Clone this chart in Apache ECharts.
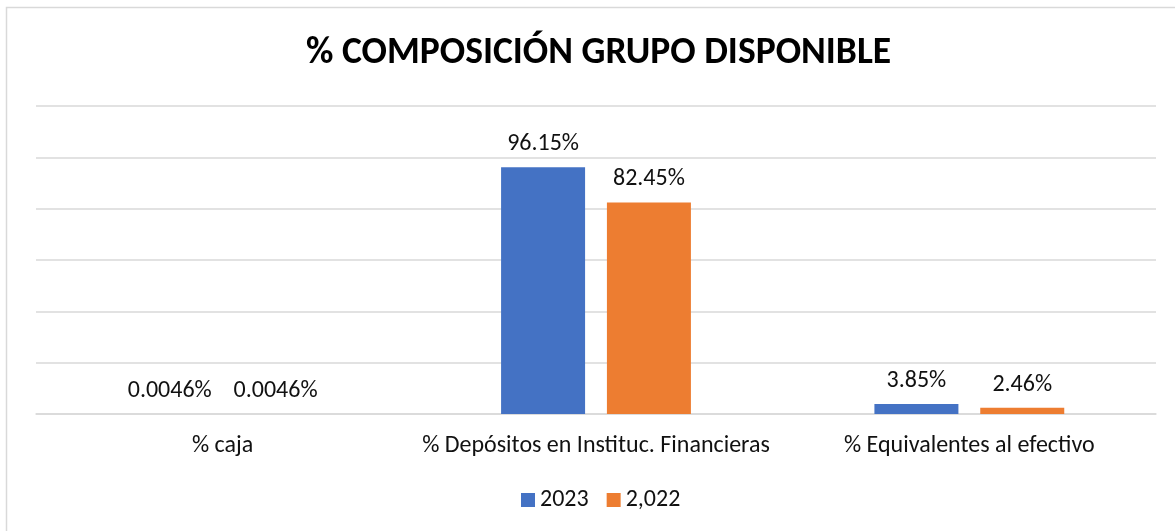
<!DOCTYPE html>
<html>
<head>
<meta charset="utf-8">
<script src="https://cdn.jsdelivr.net/npm/echarts@6/dist/echarts.min.js"></script>
<style>html,body{margin:0;padding:0;background:#fff;}#c{width:1175px;height:531px;}</style>
</head>
<body>
<div id="c"></div>
<script>
const categories = ['% caja', '% Depósitos en Instituc. Financieras', '% Equivalentes al efectivo'];
const seriesNames = ['2023', '2,022'];
const values2023 = [0.0046, 96.15, 3.85];
const values2022 = [0.0046, 82.45, 2.46];
const title = '% COMPOSICIÓN GRUPO DISPONIBLE';

const FONT = 'Carlito, Lato, sans-serif';
const chart = echarts.init(document.getElementById('c'), null, {renderer: 'canvas'});
const labelCfg = {
  show: true, position: 'top', distance: 11,
  color: '#111', fontFamily: FONT, fontSize: 24,
  formatter: p => p.value + '%'
};
chart.setOption({
  animation: false,
  backgroundColor: '#fff',
  graphic: [{
    type: 'rect', silent: true, z: -1,
    shape: {x: 6.5, y: 7.5, width: 1200, height: 600},
    style: {fill: 'none', stroke: '#D9D9D9', lineWidth: 1.5}
  }],
  title: {
    text: title, left: 301, top: 30,
    textStyle: {fontFamily: FONT, fontWeight: 'bold', fontSize: 37.6, color: '#000'}
  },
  legend: {
    bottom: 14, left: 516, itemWidth: 14, itemHeight: 14, itemGap: 18,
    icon: 'rect',
    textStyle: {fontFamily: FONT, fontSize: 24, color: '#111'},
    data: seriesNames
  },
  grid: {left: 36, right: 19, top: 106, bottom: 117, containLabel: false},
  xAxis: {
    type: 'category', data: categories,
    axisLine: {show: true, lineStyle: {color: '#D9D9D9', width: 1.5}},
    axisTick: {show: false},
    axisLabel: {margin: 20, fontFamily: FONT, fontSize: 24, color: '#111', interval: 0}
  },
  yAxis: {
    type: 'value', min: 0, max: 120, interval: 20,
    axisLabel: {show: false}, axisLine: {show: false}, axisTick: {show: false},
    splitLine: {lineStyle: {color: '#D9D9D9', width: 1.5}}
  },
  series: [
    {name: seriesNames[0], type: 'bar', data: values2023, barWidth: 84, barGap: '26%',
     itemStyle: {color: '#4472C4'}, label: labelCfg},
    {name: seriesNames[1], type: 'bar', data: values2022, barWidth: 84,
     itemStyle: {color: '#ED7D31'}, label: labelCfg}
  ]
});
</script>
</body>
</html>
